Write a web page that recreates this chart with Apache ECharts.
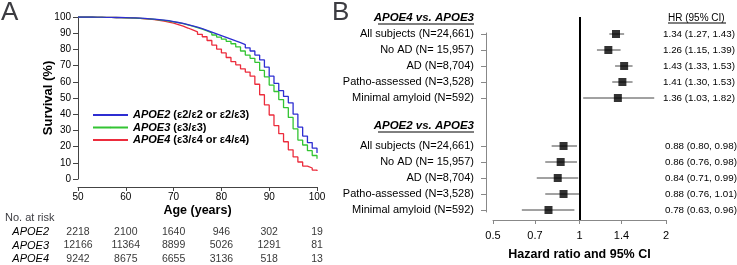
<!DOCTYPE html>
<html>
<head>
<meta charset="utf-8">
<script src="https://cdn.jsdelivr.net/npm/echarts@6/dist/echarts.min.js"></script>
<style>
  html, body { margin: 0; padding: 0; background: #fff; }
  #chart { width: 737px; height: 265px; }
</style>
</head>
<body>
<div id="chart"></div>
<script>
// Panel A: survival by age (one value per year)
const ages = [50, 51, 52, 53, 54, 55, 56, 57, 58, 59, 60, 61, 62, 63, 64, 65, 66, 67, 68, 69,
  70, 71, 72, 73, 74, 75, 76, 77, 78, 79, 80, 81, 82, 83, 84, 85, 86, 87, 88, 89,
  90, 91, 92, 93, 94, 95, 96, 97, 98, 99, 100];
const survApoe2 = [100, 100, 100, 99.9, 99.9, 99.8, 99.8, 99.7, 99.7, 99.6, 99.5, 99.4, 99.3, 99.1, 98.9, 98.7, 98.4, 98.1, 97.7, 97.2,
  96.6, 96.0, 95.3, 94.5, 93.7, 92.8, 91.8, 90.7, 89.6, 88.5, 87.4, 86.3, 85.2, 84.2, 83.0, 81.0, 79.0, 76.5, 73.5, 69.0,
  63.5, 59.0, 54.5, 51.0, 47.0, 40.0, 32.0, 26.5, 22.5, 19.0, 16.0];
const survApoe3 = [100, 100, 100, 99.9, 99.9, 99.8, 99.8, 99.7, 99.6, 99.5, 99.4, 99.3, 99.2, 99.0, 98.8, 98.5, 98.2, 97.9, 97.5, 97.0,
  96.5, 95.9, 95.2, 94.4, 93.5, 92.5, 91.4, 90.2, 88.9, 87.6, 86.3, 85.0, 83.5, 81.5, 79.0, 76.5, 74.5, 72.0, 67.0, 63.0,
  58.0, 54.0, 49.0, 44.0, 38.0, 31.0, 24.0, 21.0, 17.5, 14.5, 12.5];
const survApoe4 = [100, 100, 100, 99.9, 99.9, 99.8, 99.8, 99.7, 99.6, 99.5, 99.4, 99.3, 99.1, 98.9, 98.7, 98.4, 98.0, 97.5, 96.9, 96.2,
  95.3, 94.3, 93.2, 92.0, 90.8, 89.3, 87.8, 85.5, 82.7, 80.2, 77.8, 75.0, 72.4, 70.5, 68.0, 66.0, 63.5, 58.5, 52.0, 45.7,
  39.5, 33.0, 28.0, 23.0, 18.0, 13.6, 10.5, 8.0, 6.8, 5.5, 5.0];
const genotypes = ['(ε2/ε2 or ε2/ε3)', '(ε3/ε3)', '(ε3/ε4 or ε4/ε4)'];

// number at risk table
const riskAges = [50, 60, 70, 80, 90, 100];
const riskGroups = ['APOE2', 'APOE3', 'APOE4'];
const riskApoe2 = [2218, 2100, 1640, 946, 302, 19];
const riskApoe3 = [12166, 11364, 8899, 5026, 1291, 81];
const riskApoe4 = [9242, 8675, 6655, 3136, 518, 13];

// Panel B: hazard ratios
const subgroups = ['All subjects (N=24,661)', 'No AD (N= 15,957)', 'AD (N=8,704)',
  'Patho-assessed (N=3,528)', 'Minimal amyloid (N=592)'];
const hrE4 = [1.34, 1.26, 1.43, 1.41, 1.36];
const loE4 = [1.27, 1.15, 1.33, 1.30, 1.03];
const hiE4 = [1.43, 1.39, 1.53, 1.53, 1.82];
const hrE2 = [0.88, 0.86, 0.84, 0.88, 0.78];
const loE2 = [0.80, 0.76, 0.71, 0.76, 0.63];
const hiE2 = [0.98, 0.98, 0.99, 1.01, 0.96];
const hrTicks = [0.5, 0.7, 1, 1.4, 2];

const FONT = 'Liberation Sans, Arial, sans-serif';
const colors = ['#2e2ed2', '#33c433', '#ec2c3c'];

const chart = echarts.init(document.getElementById('chart'));

// row slots in the forest plot (16px apart)
const rowsE4 = [1, 2, 3, 4, 5];
const rowsE2 = [8, 9, 10, 11, 12];
const header1 = 0, header2 = 6.75;

const leftLabels = {};
leftLabels[header1] = '{h|APOE4 vs. APOE3}';
leftLabels[header2] = '{h|APOE2 vs. APOE3}';
const rightLabels = {};
rightLabels[header1] = '{t|HR (95% CI)}';
subgroups.forEach((s, i) => {
  leftLabels[rowsE4[i]] = s;
  leftLabels[rowsE2[i]] = s;
  rightLabels[rowsE4[i]] = '{a|' + hrE4[i].toFixed(2) + ' (' + loE4[i].toFixed(2) + ', ' + hiE4[i].toFixed(2) + ')}';
  rightLabels[rowsE2[i]] = '{b|' + hrE2[i].toFixed(2) + ' (' + loE2[i].toFixed(2) + ', ' + hiE2[i].toFixed(2) + ')}';
});

const ciData = [];
const hrData = [];
subgroups.forEach((s, i) => {
  ciData.push([rowsE4[i], loE4[i], hiE4[i]]);
  ciData.push([rowsE2[i], loE2[i], hiE2[i]]);
  hrData.push([hrE4[i], rowsE4[i]]);
  hrData.push([hrE2[i], rowsE2[i]]);
});

const riskData = [];
[riskApoe2, riskApoe3, riskApoe4].forEach((arr, r) => {
  arr.forEach((n, i) => riskData.push([riskAges[i], r, n]));
});

const survSeries = [survApoe2, survApoe3, survApoe4].map((arr, k) => ({
  name: riskGroups[k],
  type: 'line',
  step: 'end',
  symbol: 'none',
  xAxisIndex: 0,
  yAxisIndex: 0,
  data: ages.map((a, i) => [a, arr[i]]),
  lineStyle: { color: colors[k], width: 1.3 },
  itemStyle: { color: colors[k] },
  z: 3 - k
}));

const option = {
  animation: false,
  textStyle: { fontFamily: FONT, color: '#000' },
  title: [
    { text: 'A', left: 1, top: 0, padding: 0, textStyle: { fontSize: 26, fontWeight: 'normal', fontFamily: FONT } },
    { text: 'B', left: 332, top: 0, padding: 0, textStyle: { fontSize: 26, fontWeight: 'normal', fontFamily: FONT } },
    { text: 'No. at risk', left: 5, top: 212, padding: 0, textStyle: { fontSize: 11, fontWeight: 'normal', fontFamily: FONT } }
  ],
  legend: {
    orient: 'vertical',
    left: 92,
    top: 109,
    padding: 0,
    itemWidth: 35,
    itemHeight: 2,
    itemGap: 0.5,
    data: riskGroups,
    textStyle: {
      fontSize: 11, fontWeight: 'bold', lineHeight: 12, color: '#000', fontFamily: FONT,
      rich: { i: { fontSize: 11, fontWeight: 'bold', fontStyle: 'italic', fontFamily: FONT, lineHeight: 12 } }
    },
    formatter: name => '{i|' + name + '} ' + genotypes[riskGroups.indexOf(name)]
  },
  grid: [
    { left: 78, right: 420, top: 17, bottom: 86, outerBoundsMode: 'none' },
    { left: 78, right: 420, top: 232, bottom: 6, outerBoundsMode: 'none' },
    { left: 493, right: 71, top: 17, bottom: 45, outerBoundsMode: 'none' },
    { left: 486, width: 10, top: 33, bottom: 53, outerBoundsMode: 'none' }
  ],
  xAxis: [
    {
      gridIndex: 0, type: 'value', min: 50, max: 100, interval: 10, offset: 8,
      name: 'Age (years)', nameLocation: 'middle', nameGap: 17, nameMoveOverlap: false,
      nameTextStyle: { fontSize: 12.5, fontWeight: 'bold', fontFamily: FONT },
      axisLine: { onZero: false, lineStyle: { color: '#444' } },
      axisTick: { length: 4, lineStyle: { color: '#444' } },
      axisLabel: { fontSize: 10, margin: 5, color: '#000' },
      splitLine: { show: false }
    },
    { gridIndex: 1, type: 'value', min: 50, max: 100, show: false },
    {
      gridIndex: 2, type: 'log', logBase: 2, min: 0.5, max: 2,
      name: 'Hazard ratio and 95% CI', nameLocation: 'middle', nameGap: 28, nameMoveOverlap: false,
      nameTextStyle: { fontSize: 12.5, fontWeight: 'bold', fontFamily: FONT },
      axisLine: { onZero: false, lineStyle: { color: '#888' } },
      axisTick: { length: 4, lineStyle: { color: '#888' }, customValues: hrTicks },
      axisLabel: { fontSize: 11, margin: 10, color: '#000', customValues: hrTicks, formatter: v => String(+(+v).toFixed(2)) },
      splitLine: { show: false }
    },
    { gridIndex: 3, type: 'value', show: false }
  ],
  yAxis: [
    {
      gridIndex: 0, type: 'value', min: 0, max: 100, interval: 10,
      name: 'Survival (%)', nameLocation: 'middle', nameGap: 23, nameMoveOverlap: false,
      nameTextStyle: { fontSize: 13, fontWeight: 'bold', fontFamily: FONT },
      axisLine: { show: true, onZero: false, lineStyle: { color: '#444' } },
      axisTick: { show: true, length: 5, lineStyle: { color: '#444' } },
      axisLabel: { fontSize: 10, margin: 7, color: '#000' },
      splitLine: { show: false }
    },
    {
      gridIndex: 1, type: 'value', min: 0, max: 2, interval: 1, inverse: true,
      axisLine: { show: false }, axisTick: { show: false }, splitLine: { show: false },
      axisLabel: { fontSize: 11, fontStyle: 'italic', margin: 29, color: '#000', formatter: v => riskGroups[v] || '' }
    },
    {
      gridIndex: 2, type: 'value', min: -0.0625, max: 12.625, inverse: true,
      axisLine: { show: false, onZero: false }, axisTick: { show: false }, splitLine: { show: false },
      axisLabel: {
        fontSize: 11, margin: 19, color: '#000',
        customValues: Object.keys(leftLabels).map(Number),
        formatter: v => leftLabels[v] || '',
        rich: { h: { fontSize: 11.5, fontWeight: 'bold', fontStyle: 'italic', fontFamily: FONT } }
      }
    },
    {
      gridIndex: 2, type: 'value', position: 'right', min: -0.0625, max: 12.625, inverse: true,
      axisLine: { show: false, onZero: false }, axisTick: { show: false }, splitLine: { show: false },
      axisLabel: {
        margin: -3, color: '#000',
        customValues: Object.keys(rightLabels).map(Number),
        formatter: v => rightLabels[v] || '',
        rich: {
          t: { fontSize: 10, fontFamily: FONT, padding: [0, 0, 0, 5] },
          a: { fontSize: 9.8, fontFamily: FONT },
          b: { fontSize: 9.8, fontFamily: FONT, padding: [0, 0, 0, 2] }
        }
      }
    },
    {
      gridIndex: 3, type: 'value', min: 0.9375, max: 12.125, inverse: true,
      axisLine: { show: true, onZero: false, lineStyle: { color: '#888' } },
      axisTick: { show: true, length: 5, lineStyle: { color: '#888' }, customValues: rowsE4.concat(rowsE2) },
      axisLabel: { show: false }, splitLine: { show: false }
    }
  ],
  graphic: [
    { type: 'line', shape: { x1: 378, y1: 24, x2: 474, y2: 24 }, style: { stroke: '#000', lineWidth: 1 } },
    { type: 'line', shape: { x1: 378, y1: 132, x2: 474, y2: 132 }, style: { stroke: '#000', lineWidth: 1 } },
    { type: 'line', shape: { x1: 668, y1: 23, x2: 726, y2: 23 }, style: { stroke: '#000', lineWidth: 1 } }
  ],
  series: survSeries.concat([
    {
      type: 'scatter',
      xAxisIndex: 1,
      yAxisIndex: 1,
      symbolSize: 0,
      data: riskData,
      label: {
        show: true, position: 'inside', color: '#000', fontSize: 10.5, fontFamily: FONT,
        formatter: p => String(p.value[2])
      }
    },
    {
      type: 'custom',
      xAxisIndex: 2,
      yAxisIndex: 2,
      data: ciData,
      encode: { x: [1, 2], y: 0 },
      renderItem: function (params, api) {
        const a = api.coord([api.value(1), api.value(0)]);
        const b = api.coord([api.value(2), api.value(0)]);
        return {
          type: 'line',
          shape: { x1: a[0], y1: a[1], x2: b[0], y2: b[1] },
          style: { stroke: '#444', lineWidth: 1 }
        };
      }
    },
    {
      type: 'scatter',
      xAxisIndex: 2,
      yAxisIndex: 2,
      symbol: 'rect',
      symbolSize: 8,
      itemStyle: { color: '#000' },
      data: hrData,
      z: 5,
      markLine: {
        silent: true,
        symbol: 'none',
        label: { show: false },
        lineStyle: { color: '#000', width: 2, type: 'solid' },
        data: [{ xAxis: 1 }]
      }
    }
  ])
};

chart.setOption(option);
</script>
</body>
</html>
